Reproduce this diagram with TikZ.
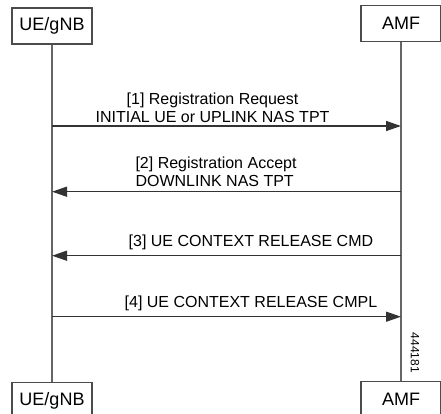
\documentclass[tikz,border=0pt]{standalone}
\usepackage{fontspec}
\setmainfont{Liberation Sans}
\usetikzlibrary{positioning,arrows.meta}

\begin{document}
\begin{tikzpicture}[x=1pt,y=-1pt,>={Triangle[length=15pt,width=10pt]},
  entity/.style={draw=black!70,line width=1.1pt,minimum width=80pt,minimum height=36pt,
    fill=white,font=\fontsize{18}{20}\selectfont},
  life/.style={draw=black!60,line width=1.6pt},
  msg/.style={->,draw=black!80,line width=1.4pt},
  lbl/.style={font=\fontsize{16}{18}\selectfont,inner sep=1pt,align=center}]
\useasboundingbox (0,0) rectangle (441,414);
% entities, top and bottom
\node[entity] (ue) at (52,26) {UE/gNB};
\node[entity] (amf) at (401,23.5) {AMF};
\node[entity] (ueb) at (52,400.5) {UE/gNB};
\node[entity] (amfb) at (401,399.5) {AMF};
\draw[life] (ue) -- (ueb);
\draw[life] (amf) -- (amfb);
% message rows on the lifelines
\foreach \n/\y in {1/126,2/191.7,3/255.7,4/316.7} {
  \coordinate (u\n) at (ue |- 0,\y);
  \coordinate (a\n) at (amf |- 0,\y);
}
\draw[msg] (u1) -- node[lbl,above=2pt,pos=.46] {[1] Registration Request\\INITIAL UE or UPLINK NAS TPT} (a1);
\draw[msg] (a2) -- node[lbl,above=3pt,pos=.53,align=left] {[2] Registration Accept\\DOWNLINK NAS TPT} (u2);
\draw[msg] (a3) -- node[lbl,above=4pt,pos=.43] {[3] UE CONTEXT RELEASE CMD} (u3);
\draw[msg] (u4) -- node[lbl,above=4pt,pos=.57] {[4] UE CONTEXT RELEASE CMPL} (a4);
\node[rotate=-90,font=\fontsize{12}{12}\selectfont] (figno) at (415,353) {444181};
\end{tikzpicture}
\end{document}
